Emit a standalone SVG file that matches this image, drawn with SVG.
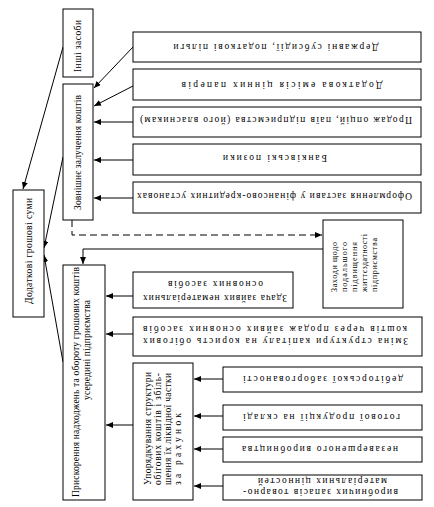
<svg xmlns="http://www.w3.org/2000/svg" width="434" height="507" viewBox="0 0 434 507">
<defs>
<style>
.b{fill:#fff;stroke:#000;stroke-width:1}
.c{fill:none;stroke:#000;stroke-width:1}
.d{fill:none;stroke:#000;stroke-width:1;stroke-dasharray:7 4}
text{font-family:"Liberation Serif","Times New Roman",serif;font-size:9.5px;fill:#000;dominant-baseline:central}
.m{text-anchor:middle}
.s{font-size:8px}
</style>
<marker id="ah" viewBox="0 0 7 6" refX="7" refY="3" markerWidth="7" markerHeight="6" markerUnits="userSpaceOnUse" orient="auto">
<path d="M0,0 L7,3 L0,6 z" fill="#000"/>
</marker>
</defs>
<rect width="434" height="507" fill="#fff"/>

<g id="connectors">
<line class="c" x1="63" y1="47" x2="23" y2="189" marker-end="url(#ah)"/>
<line class="c" x1="63" y1="157" x2="44" y2="248" marker-end="url(#ah)"/>
<line class="c" x1="63" y1="362" x2="44" y2="255" marker-end="url(#ah)"/>
<line class="c" x1="133" y1="47" x2="94" y2="88" marker-end="url(#ah)"/>
<line class="c" x1="133" y1="86" x2="94" y2="106" marker-end="url(#ah)"/>
<line class="c" x1="133" y1="122" x2="94" y2="122" marker-end="url(#ah)"/>
<line class="c" x1="133" y1="160" x2="94" y2="160" marker-end="url(#ah)"/>
<line class="c" x1="133" y1="198" x2="94" y2="198" marker-end="url(#ah)"/>
<polyline class="d" points="72,220 72,235 322,235" marker-end="url(#ah)"/>
<polyline class="c" points="323,249 83,249 83,264" marker-end="url(#ah)"/>
<line class="c" x1="133" y1="296" x2="106" y2="296" marker-end="url(#ah)"/>
<line class="c" x1="133" y1="334" x2="106" y2="334" marker-end="url(#ah)"/>
<line class="c" x1="133" y1="425" x2="106" y2="425" marker-end="url(#ah)"/>
<line class="c" x1="223" y1="379" x2="194" y2="379" marker-end="url(#ah)"/>
<line class="c" x1="223" y1="416" x2="194" y2="416" marker-end="url(#ah)"/>
<line class="c" x1="223" y1="449" x2="194" y2="449" marker-end="url(#ah)"/>
<line class="c" x1="223" y1="486" x2="194" y2="486" marker-end="url(#ah)"/>
</g>

<g id="n-dodatkovi">
<rect class="b" x="13" y="190" width="31" height="127"/>
<text x="28.5" y="304" transform="rotate(-90 28.5 304)" textLength="106" lengthAdjust="spacing">Додаткові грошові суми</text>
</g>

<g id="n-inshi">
<rect class="b" x="63" y="9" width="30" height="68"/>
<text x="78" y="72" transform="rotate(-90 78 72)" textLength="52" lengthAdjust="spacing">Інші засоби</text>
</g>

<g id="n-zovnishnie">
<rect class="b" x="63" y="84" width="30" height="136"/>
<text x="78" y="210" transform="rotate(-90 78 210)" textLength="115" lengthAdjust="spacing">Зовнішнє залучення коштів</text>
</g>

<g id="n-pryskorennia">
<rect class="b" x="63" y="265" width="42" height="235"/>
<text x="76" y="497" transform="rotate(-90 76 497)" textLength="230" lengthAdjust="spacing">Прискорення надходжень та обороту грошових коштів</text>
<text x="87" y="400" transform="rotate(-90 87 400)" textLength="100" lengthAdjust="spacing">усередині підприємства</text>
</g>

<g id="n-subsydii">
<rect class="b" x="133" y="32" width="288" height="30"/>
<text class="m" x="276" y="47" transform="rotate(180 276 47)" textLength="205" lengthAdjust="spacing">Державні субсидії, податкові пільги</text>
</g>

<g id="n-emisiia">
<rect class="b" x="133" y="69" width="288" height="31"/>
<text class="m" x="282" y="85" transform="rotate(180 282 85)" textLength="201" lengthAdjust="spacing">Додаткова емісія цінних паперів</text>
</g>

<g id="n-prodazh">
<rect class="b" x="133" y="107" width="288" height="30"/>
<text class="m" x="276" y="120" transform="rotate(180 276 120)" textLength="272" lengthAdjust="spacing">Продаж опцій, паїв підприємства (його власникам)</text>
</g>

<g id="n-pozyky">
<rect class="b" x="133" y="144" width="288" height="31"/>
<text class="m" x="275" y="158" transform="rotate(180 275 158)" textLength="104" lengthAdjust="spacing">Банківські позики</text>
</g>

<g id="n-zastava">
<rect class="b" x="133" y="182" width="288" height="31"/>
<text class="m" x="274.5" y="196" transform="rotate(180 274.5 196)" textLength="275" lengthAdjust="spacing">Оформлення застави у фінансово-кредитних установах</text>
</g>

<g id="n-zakhody">
<rect class="b" x="323" y="220" width="80" height="88"/>
<text class="s" x="334" y="292" transform="rotate(-90 334 292)" textLength="50" lengthAdjust="spacing">Заходи щодо</text>
<text class="s" x="344" y="292" transform="rotate(-90 344 292)" textLength="50" lengthAdjust="spacing">подальшого</text>
<text class="s" x="354" y="292" transform="rotate(-90 354 292)" textLength="50" lengthAdjust="spacing">підвищення</text>
<text class="s" x="364" y="292" transform="rotate(-90 364 292)" textLength="58" lengthAdjust="spacing">життєздатності</text>
<text class="s" x="374" y="292" transform="rotate(-90 374 292)" textLength="54" lengthAdjust="spacing">підприємства</text>
</g>

<g id="n-zdacha">
<rect class="b" x="133" y="272" width="160" height="36"/>
<text class="m" x="215" y="298" transform="rotate(180 215 298)" textLength="144" lengthAdjust="spacing">Здача зайвих нематеріальних</text>
<text class="m" x="215.5" y="284" transform="rotate(180 215.5 284)" textLength="95" lengthAdjust="spacing">основних засобів</text>
</g>

<g id="n-struktura">
<rect class="b" x="133" y="317" width="289" height="39"/>
<text class="m" x="275.5" y="341" transform="rotate(180 275.5 341)" textLength="265" lengthAdjust="spacing">Зміна структури капіталу на користь обігових</text>
<text class="m" x="275" y="329" transform="rotate(180 275 329)" textLength="264" lengthAdjust="spacing">коштів через продаж зайвих основних засобів</text>
</g>

<g id="n-uporiadkuvannia">
<rect class="b" x="133" y="363" width="60" height="137"/>
<text x="148" y="485" transform="rotate(-90 148 485)" textLength="113" lengthAdjust="spacing">Упорядкування структури</text>
<text x="158" y="485" transform="rotate(-90 158 485)" textLength="112" lengthAdjust="spacing">обігових коштів і збіль-</text>
<text x="168" y="485" transform="rotate(-90 168 485)" textLength="112" lengthAdjust="spacing">шення їх ліквідної частки</text>
<text x="178" y="485" transform="rotate(-90 178 485)" textLength="72" lengthAdjust="spacing">за рахунок</text>
</g>

<g id="n-debitorska">
<rect class="b" x="223" y="367" width="199" height="25"/>
<text class="m" x="323" y="379" transform="rotate(180 323 379)" textLength="160" lengthAdjust="spacing">дебіторської заборгованості</text>
</g>

<g id="n-hotova">
<rect class="b" x="223" y="405" width="199" height="25"/>
<text class="m" x="321.5" y="417" transform="rotate(180 321.5 417)" textLength="157" lengthAdjust="spacing">готової продукції на складі</text>
</g>

<g id="n-nezavershene">
<rect class="b" x="223" y="437" width="199" height="25"/>
<text class="m" x="320" y="449" transform="rotate(180 320 449)" textLength="156" lengthAdjust="spacing">незавершеного виробництва</text>
</g>

<g id="n-zapasy">
<rect class="b" x="223" y="475" width="199" height="25"/>
<text class="m" x="320.5" y="492" transform="rotate(180 320.5 492)" textLength="155" lengthAdjust="spacing">виробничих запасів товарно-</text>
<text class="m" x="322.5" y="481" transform="rotate(180 322.5 481)" textLength="129" lengthAdjust="spacing">матеріальних цінностей</text>
</g>
</svg>
